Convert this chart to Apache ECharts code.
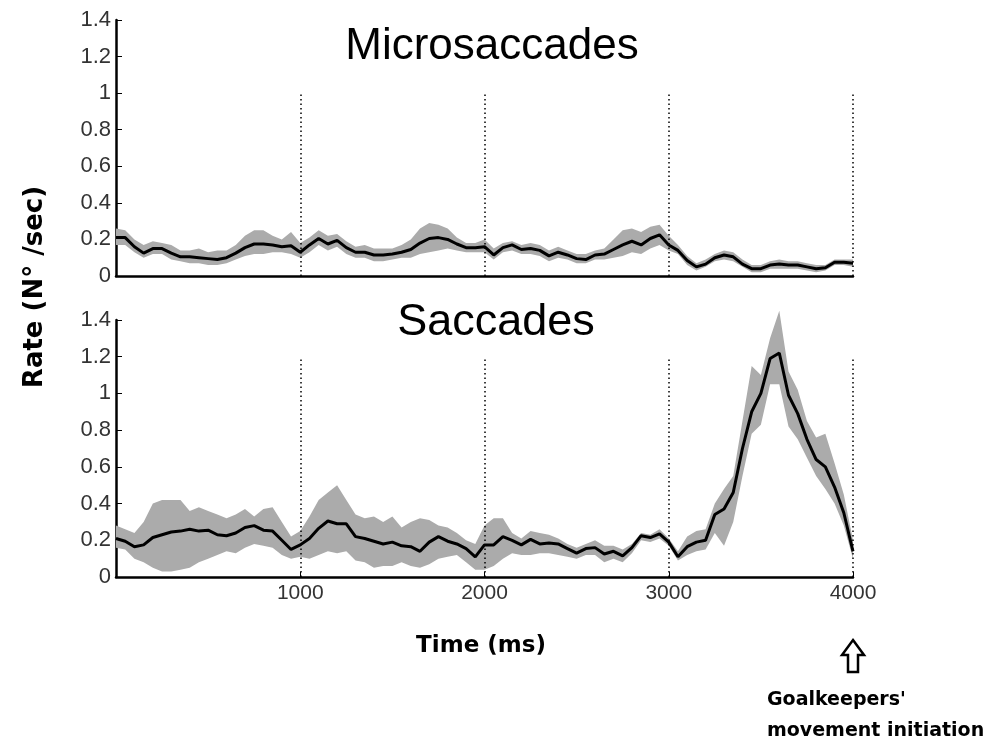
<!DOCTYPE html>
<html>
<head>
<meta charset="utf-8">
<script src="https://cdn.jsdelivr.net/npm/echarts@6/dist/echarts.min.js"></script>
<style>
  html, body { margin: 0; padding: 0; background: #fff; }
  #chart { width: 987px; height: 747px; }
</style>
</head>
<body>
<div id="chart"></div>
<script>
// time grid, ms (one sample every 50 ms)
var STEP = 50
var times = []
for (var t = 0; t <= 4000; t += STEP) times.push(t)

// Microsaccades: mean rate and shaded band
var microMean = [0.21, 0.21, 0.16, 0.125, 0.15, 0.15, 0.125, 0.105, 0.105, 0.10,
  0.095, 0.09, 0.10, 0.125, 0.155, 0.175, 0.175, 0.17, 0.16, 0.165,
  0.13, 0.17, 0.205, 0.175, 0.195, 0.155, 0.13, 0.13, 0.115, 0.115,
  0.12, 0.13, 0.145, 0.18, 0.205, 0.21, 0.2, 0.175, 0.155, 0.155,
  0.16, 0.115, 0.155, 0.17, 0.145, 0.15, 0.14, 0.11, 0.13, 0.115,
  0.095, 0.09, 0.115, 0.12, 0.145, 0.17, 0.19, 0.17, 0.205, 0.225,
  0.17, 0.14, 0.085, 0.05, 0.065, 0.10, 0.115, 0.105, 0.065, 0.04,
  0.04, 0.06, 0.065, 0.06, 0.06, 0.05, 0.04, 0.045, 0.075, 0.075, 0.07]
var microUpper = [0.26, 0.25, 0.20, 0.17, 0.19, 0.18, 0.17, 0.14, 0.14, 0.15,
  0.13, 0.14, 0.14, 0.17, 0.22, 0.25, 0.25, 0.22, 0.20, 0.24,
  0.18, 0.21, 0.25, 0.22, 0.23, 0.19, 0.16, 0.17, 0.15, 0.15,
  0.15, 0.17, 0.20, 0.26, 0.29, 0.28, 0.26, 0.21, 0.18, 0.18,
  0.20, 0.15, 0.18, 0.19, 0.17, 0.18, 0.17, 0.14, 0.16, 0.14,
  0.12, 0.12, 0.14, 0.15, 0.20, 0.25, 0.26, 0.24, 0.27, 0.28,
  0.22, 0.17, 0.11, 0.07, 0.09, 0.12, 0.14, 0.13, 0.09, 0.06,
  0.06, 0.08, 0.09, 0.08, 0.08, 0.07, 0.06, 0.06, 0.09, 0.09, 0.09]
var microLower = [0.17, 0.17, 0.13, 0.10, 0.12, 0.12, 0.09, 0.08, 0.07, 0.07,
  0.06, 0.06, 0.07, 0.09, 0.11, 0.12, 0.12, 0.13, 0.13, 0.12,
  0.10, 0.13, 0.17, 0.14, 0.16, 0.12, 0.10, 0.10, 0.08, 0.08,
  0.09, 0.10, 0.10, 0.12, 0.13, 0.14, 0.15, 0.14, 0.13, 0.13,
  0.13, 0.09, 0.13, 0.14, 0.12, 0.12, 0.11, 0.08, 0.10, 0.09,
  0.07, 0.07, 0.09, 0.09, 0.10, 0.11, 0.13, 0.12, 0.15, 0.17,
  0.14, 0.12, 0.06, 0.03, 0.05, 0.08, 0.09, 0.08, 0.05, 0.02,
  0.02, 0.04, 0.04, 0.04, 0.04, 0.03, 0.02, 0.03, 0.06, 0.06, 0.05]

// Saccades: mean rate and shaded band
var saccMean = [0.21, 0.195, 0.165, 0.175, 0.215, 0.23, 0.245, 0.25, 0.26, 0.25,
  0.255, 0.23, 0.225, 0.24, 0.27, 0.28, 0.255, 0.25, 0.2, 0.15,
  0.175, 0.21, 0.265, 0.305, 0.29, 0.29, 0.22, 0.21, 0.195, 0.18,
  0.19, 0.17, 0.165, 0.14, 0.19, 0.22, 0.195, 0.18, 0.155, 0.11,
  0.175, 0.175, 0.22, 0.2, 0.175, 0.205, 0.18, 0.185, 0.18, 0.155,
  0.13, 0.155, 0.16, 0.125, 0.14, 0.115, 0.16, 0.225, 0.215, 0.235,
  0.19, 0.11, 0.165, 0.19, 0.2, 0.34, 0.37, 0.46, 0.7, 0.9,
  1.0, 1.19, 1.22, 0.99, 0.89, 0.75, 0.64, 0.6, 0.49, 0.35, 0.14]
var saccUpper = [0.28, 0.26, 0.24, 0.30, 0.40, 0.42, 0.42, 0.42, 0.36, 0.38,
  0.36, 0.34, 0.32, 0.34, 0.37, 0.33, 0.37, 0.38, 0.30, 0.22,
  0.25, 0.33, 0.42, 0.46, 0.50, 0.42, 0.34, 0.32, 0.33, 0.30,
  0.33, 0.27, 0.30, 0.32, 0.31, 0.28, 0.27, 0.24, 0.20, 0.18,
  0.28, 0.32, 0.32, 0.24, 0.21, 0.25, 0.24, 0.23, 0.21, 0.18,
  0.16, 0.18, 0.20, 0.17, 0.17, 0.15, 0.18, 0.24, 0.23, 0.26,
  0.21, 0.14, 0.22, 0.25, 0.26, 0.40, 0.48, 0.55, 0.85, 1.15,
  1.10, 1.30, 1.45, 1.12, 1.02, 0.85, 0.76, 0.78, 0.62, 0.45, 0.20]
var saccLower = [0.16, 0.15, 0.10, 0.08, 0.05, 0.03, 0.03, 0.04, 0.05, 0.08,
  0.10, 0.12, 0.14, 0.13, 0.16, 0.18, 0.17, 0.16, 0.12, 0.10,
  0.11, 0.10, 0.12, 0.14, 0.13, 0.14, 0.09, 0.08, 0.05, 0.06,
  0.06, 0.08, 0.06, 0.05, 0.07, 0.10, 0.11, 0.12, 0.08, 0.04,
  0.04, 0.06, 0.10, 0.13, 0.12, 0.12, 0.13, 0.13, 0.12, 0.11,
  0.10, 0.12, 0.12, 0.08, 0.10, 0.08, 0.13, 0.20, 0.19, 0.21,
  0.17, 0.09, 0.12, 0.14, 0.15, 0.24, 0.17, 0.30, 0.55, 0.78,
  0.83, 1.05, 1.05, 0.82, 0.75, 0.65, 0.55, 0.48, 0.40, 0.28, 0.10]

// dotted reference lines (ms) and how high they reach in each panel
var markerTimes = [1000, 2000, 3000, 4000]
var microMarkTop = 1.0
var saccMarkTop = 1.2

var yTicks = { min: 0, max: 1.4, interval: 0.2 }
var FONT = 'Liberation Sans'
var BOLD_FONT = 'DejaVu Sans'

function pairs(values) {
  return times.map(function (t, i) { return [t, values[i]] })
}
function bandRows(upper, lower) {
  return times.map(function (t, i) { return [t, lower[i], upper[i]] })
}
function markLines(top) {
  return markerTimes.map(function (m) {
    return [{ coord: [m, 0] }, { coord: [m, top] }]
  })
}

// whole band as one polygon: lower edge forward, upper edge back
function bandRenderer(rows) {
  return function (params, api) {
    if (params.dataIndex !== 0) return
    var pts = []
    rows.forEach(function (r) { pts.push(api.coord([r[0], r[1]])) })
    for (var i = rows.length - 1; i >= 0; i--) pts.push(api.coord([rows[i][0], rows[i][2]]))
    return {
      type: 'polygon',
      shape: { points: pts },
      style: { fill: '#ababab' }
    }
  }
}

function panelSeries(idx, mean, upper, lower, markTop) {
  var rows = bandRows(upper, lower)
  return [
    {
      type: 'custom', xAxisIndex: idx, yAxisIndex: idx,
      data: rows, silent: true, z: 2,
      encode: { x: 0, y: [1, 2] },
      renderItem: bandRenderer(rows)
    },
    {
      type: 'line', xAxisIndex: idx, yAxisIndex: idx,
      data: pairs(mean), symbol: 'none',
      lineStyle: { color: '#000', width: 3 },
      z: 5,
      markLine: {
        silent: true, symbol: 'none', label: { show: false },
        lineStyle: { color: '#000', type: [1.5, 3], width: 1.5 },
        data: markLines(markTop)
      }
    }
  ]
}

function xAxis(idx, showLabels) {
  return {
    type: 'value', gridIndex: idx, min: 0, max: 4000, interval: 1000,
    axisLine: { show: true, onZero: false, lineStyle: { color: '#000', width: 2.5 } },
    axisTick: { show: showLabels, inside: true, length: 5, lineStyle: { color: '#000' } },
    axisLabel: {
      show: showLabels, showMinLabel: false, margin: 6,
      color: '#333', fontFamily: FONT, fontSize: 21,
      formatter: function (v) { return String(v) }
    },
    splitLine: { show: false }
  }
}

function yAxis(idx) {
  return {
    type: 'value', gridIndex: idx, min: yTicks.min, max: yTicks.max, interval: yTicks.interval,
    axisLine: { show: true, lineStyle: { color: '#000', width: 2.5 } },
    axisTick: { show: true, inside: true, length: 6, lineStyle: { color: '#000' } },
    axisLabel: { color: '#333', fontFamily: FONT, fontSize: 22, margin: 5 },
    splitLine: { show: false }
  }
}

var chart = echarts.init(document.getElementById('chart'))
chart.setOption({
  backgroundColor: '#fff',
  animation: false,
  title: [
    {
      text: 'Microsaccades', left: 487, top: 20, textAlign: 'center',
      textStyle: { fontFamily: FONT, fontSize: 44, fontWeight: 'normal', color: '#000' }
    },
    {
      text: 'Saccades', left: 491, top: 295, textAlign: 'center',
      textStyle: { fontFamily: FONT, fontSize: 45, fontWeight: 'normal', color: '#000' }
    }
  ],
  grid: [
    { left: 116, top: 20, width: 737, height: 256 },
    { left: 116, top: 320, width: 737, height: 257 }
  ],
  xAxis: [xAxis(0, false), xAxis(1, true)],
  yAxis: [yAxis(0), yAxis(1)],
  series: panelSeries(0, microMean, microUpper, microLower, microMarkTop)
    .concat(panelSeries(1, saccMean, saccUpper, saccLower, saccMarkTop)),
  graphic: [
    {
      type: 'text', x: 35, y: 287, rotation: Math.PI / 2,
      style: {
        text: 'Rate (N° /sec)', fill: '#000', align: 'center', verticalAlign: 'middle',
        font: 'bold 26px "' + BOLD_FONT + '"'
      }
    },
    {
      type: 'text', x: 481, y: 646,
      style: {
        text: 'Time (ms)', fill: '#000', align: 'center', verticalAlign: 'middle',
        font: 'bold 23px "' + BOLD_FONT + '"'
      }
    },
    {
      type: 'polygon',
      shape: { points: [[853, 640], [864, 655], [858, 655], [858, 672], [848, 672], [848, 655], [842, 655]] },
      style: { fill: '#fff', stroke: '#000', lineWidth: 2.5 }
    },
    {
      type: 'text', x: 767, y: 700,
      style: {
        text: "Goalkeepers'", fill: '#000', verticalAlign: 'middle',
        font: 'bold 19px "' + BOLD_FONT + '"'
      }
    },
    {
      type: 'text', x: 767, y: 731,
      style: {
        text: 'movement initiation', fill: '#000', verticalAlign: 'middle',
        font: 'bold 19px "' + BOLD_FONT + '"'
      }
    }
  ]
})
</script>
</body>
</html>
